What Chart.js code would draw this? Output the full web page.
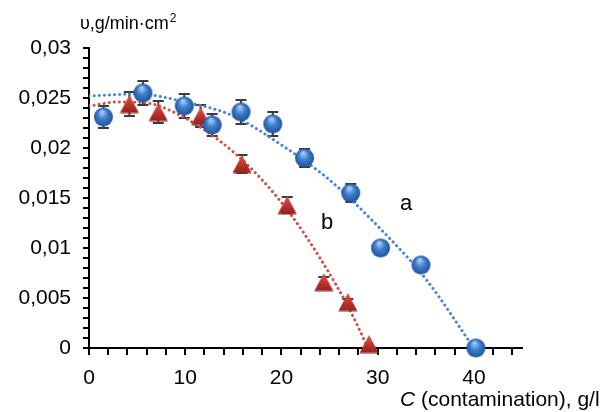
<!DOCTYPE html>
<html>
<head>
<meta charset="utf-8">
<script src="https://cdn.jsdelivr.net/npm/chart.js@4/dist/chart.umd.min.js"></script>
<style>
  body { margin: 0; background: #fff; }
  canvas { display: block; }
</style>
</head>
<body>
<canvas id="rateChart" width="615" height="412"></canvas>
<script>
// curve a (blue spheres)
var concA = [1.5, 5.6, 9.9, 12.8, 15.8, 19.1, 22.4, 27.2, 30.3, 34.5, 40.2];
var rateA = [0.0231, 0.0255, 0.0242, 0.0223, 0.0236, 0.0224, 0.0190, 0.0155, 0.0100, 0.0083, 0.0000];
var errA = [0.0011, 0.0012, 0.0012, 0.0011, 0.0012, 0.0012, 0.0009, 0.0009, 0, 0, 0];
// curve b (red triangles)
var concB = [4.2, 7.2, 11.6, 15.9, 20.6, 24.4, 26.9, 29.1];
var rateB = [0.0244, 0.0236, 0.0232, 0.0184, 0.0143, 0.0066, 0.0046, 0.0004];
var errB = [0.0012, 0.0011, 0.0011, 0.0009, 0.0008, 0.0005, 0.0003, 0];
// dotted trend lines
var trendConcA = [0, 5, 10, 15, 20, 25, 30, 35, 40];
var trendRateA = [0.0252, 0.0254, 0.0246, 0.0232, 0.0203, 0.0168, 0.0122, 0.0069, 0];
var trendConcB = [0, 3, 6, 9, 12, 15, 18, 21, 24, 27, 29];
var trendRateB = [0.0242, 0.0246, 0.0245, 0.0235, 0.0218, 0.0196, 0.0168, 0.0133, 0.0090, 0.0040, 0];
// tick labels
var xTickLabels = ['0', '10', '20', '30', '40'];
var yTickLabels = ['0', '0,005', '0,01', '0,015', '0,02', '0,025', '0,03'];

var FONT = '"Liberation Sans", Arial, sans-serif';

function toPoints(xs, ys) {
    return xs.map(function(x, i) {
        return { x: x, y: ys[i] };
    });
}

// shaded sphere marker
function makeSphere(d) {
    var c = document.createElement('canvas');
    c.width = d + 2; c.height = d + 2;
    var g = c.getContext('2d');
    var r = d / 2, cx = c.width / 2, cy = c.height / 2;
    var grad = g.createRadialGradient(cx - r * 0.15, cy - r * 0.55, r * 0.1, cx, cy, r);
    grad.addColorStop(0, '#a4cbf3');
    grad.addColorStop(0.45, '#3f80d0');
    grad.addColorStop(1, '#1f5298');
    g.beginPath();
    g.arc(cx, cy, r, 0, Math.PI * 2);
    g.fillStyle = grad;
    g.fill();
    return c;
}

// shaded triangle marker
function makeTriangle(w, h) {
    var c = document.createElement('canvas');
    c.width = w; c.height = h;
    var g = c.getContext('2d');
    var grad = g.createLinearGradient(0, 0, 0, h);
    grad.addColorStop(0, '#dc5a52');
    grad.addColorStop(0.6, '#b8302a');
    grad.addColorStop(1, '#8e2420');
    g.beginPath();
    g.moveTo(w / 2, 0.5);
    g.lineTo(w - 0.5, h - 0.5);
    g.lineTo(0.5, h - 0.5);
    g.closePath();
    g.fillStyle = grad;
    g.fill();
    return c;
}

var sphere = makeSphere(19);
var triangle = makeTriangle(20, 19);

// error bars drawn under the markers
var errorBars = {
    id: 'errorBars',
    beforeDatasetsDraw: function(chart) {
        var ctx = chart.ctx;
        var xs = chart.scales.x, ys = chart.scales.y;
        ctx.save();
        ctx.strokeStyle = '#3a3a3a';
        ctx.lineWidth = 2;
        function draw(cs, vs, es) {
            cs.forEach(function(c, i) {
                if (!es[i]) return;
                var px = xs.getPixelForValue(c);
                var top = ys.getPixelForValue(vs[i] + es[i]);
                var bot = ys.getPixelForValue(vs[i] - es[i]);
                ctx.beginPath();
                ctx.moveTo(px, top); ctx.lineTo(px, bot);
                ctx.moveTo(px - 5.5, top); ctx.lineTo(px + 5.5, top);
                ctx.moveTo(px - 5.5, bot); ctx.lineTo(px + 5.5, bot);
                ctx.stroke();
            });
        }
        draw(concA, rateA, errA);
        draw(concB, rateB, errB);
        ctx.restore();
    }
};

// axis titles and curve letters
var labels = {
    id: 'labels',
    afterDraw: function(chart) {
        var ctx = chart.ctx;
        ctx.save();
        ctx.fillStyle = '#000';
        ctx.textBaseline = 'alphabetic';
        ctx.textAlign = 'left';
        // y title
        ctx.font = '18px ' + FONT;
        var t = 'υ,g/min·cm';
        ctx.fillText(t, 80, 29);
        var w = ctx.measureText(t).width;
        ctx.font = '12px ' + FONT;
        ctx.fillText('2', 80 + w + 1, 22);
        // x title
        ctx.font = 'italic 21px ' + FONT;
        ctx.fillText('C', 400, 406);
        var wc = ctx.measureText('C').width;
        ctx.font = '21px ' + FONT;
        ctx.fillText(' (contamination), g/l', 400 + wc, 406);
        // curve letters
        ctx.font = '22px ' + FONT;
        ctx.textAlign = 'center';
        ctx.fillText('a', 406, 210);
        ctx.fillText('b', 327, 229);
        ctx.restore();
    }
};

var ctx = document.getElementById('rateChart').getContext('2d');
var rateChart = new Chart(ctx, {
    type: 'scatter',
    data: {
        datasets: [{
            label: 'a',
            data: toPoints(concA, rateA),
            pointStyle: sphere,
            clip: false,
            order: 1
        }, {
            label: 'b',
            data: toPoints(concB, rateB),
            pointStyle: triangle,
            clip: false,
            order: 1
        }, {
            type: 'line',
            label: 'trend a',
            data: toPoints(trendConcA, trendRateA),
            borderColor: '#4a86d0',
            borderWidth: 3,
            borderDash: [0.1, 5],
            borderCapStyle: 'round',
            cubicInterpolationMode: 'monotone',
            pointRadius: 0,
            fill: false,
            order: 2
        }, {
            type: 'line',
            label: 'trend b',
            data: toPoints(trendConcB, trendRateB),
            borderColor: '#d0504a',
            borderWidth: 3,
            borderDash: [0.1, 5],
            borderCapStyle: 'round',
            cubicInterpolationMode: 'monotone',
            pointRadius: 0,
            fill: false,
            order: 2
        }]
    },
    options: {
        responsive: false,
        animation: false,
        layout: {
            padding: { left: 0, top: 48, right: 93, bottom: 0 }
        },
        plugins: {
            legend: { display: false },
            tooltip: { enabled: false }
        },
        scales: {
            x: {
                type: 'linear',
                min: 0,
                max: 45,
                afterFit: function(scale) { scale.height = 64; },
                border: { display: true, color: '#000', width: 2 },
                grid: { drawOnChartArea: false, drawTicks: true, tickLength: 7, color: '#000', lineWidth: 2 },
                ticks: {
                    autoSkip: false,
                    maxRotation: 0,
                    padding: 11,
                    color: '#000',
                    font: { family: FONT, size: 21 },
                    callback: function(value) {
                        var v = Math.round(value);
                        return v % 10 === 0 ? xTickLabels[v / 10] : '';
                    }
                },
                afterBuildTicks: function(scale) {
                    var t = [];
                    for (var v = 0; v <= 44; v += 2) t.push({ value: v });
                    scale.ticks = t;
                }
            },
            y: {
                min: 0,
                max: 0.03,
                afterFit: function(scale) { scale.width = 89; },
                border: { display: true, color: '#000', width: 2 },
                grid: { drawOnChartArea: false, drawTicks: true, tickLength: 6, color: '#000', lineWidth: 2 },
                ticks: {
                    autoSkip: false,
                    padding: 12,
                    color: '#000',
                    font: { family: FONT, size: 21 },
                    callback: function(value) {
                        var k = Math.round(value * 1000);
                        return k % 5 === 0 ? yTickLabels[k / 5] : '';
                    }
                },
                afterBuildTicks: function(scale) {
                    var t = [];
                    for (var k = 0; k <= 30; k++) t.push({ value: k / 1000 });
                    scale.ticks = t;
                }
            }
        }
    },
    plugins: [errorBars, labels]
});
</script>
</body>
</html>
